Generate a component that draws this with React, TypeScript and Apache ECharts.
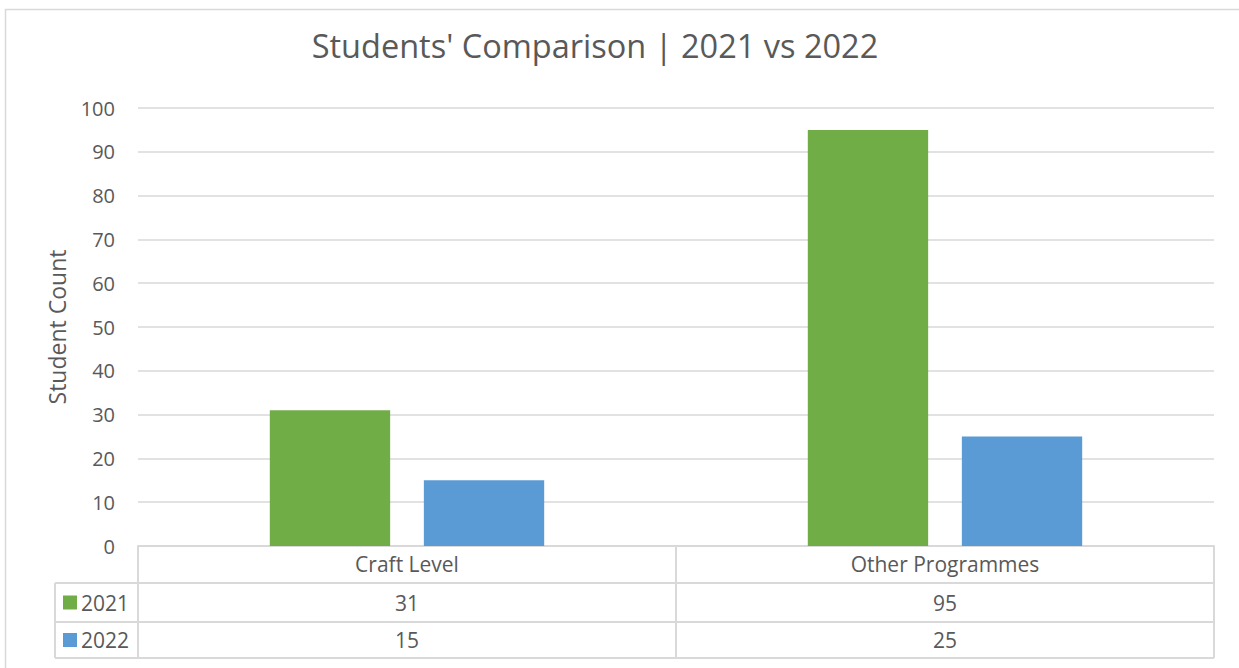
import React, { useEffect, useRef } from "react";
import * as echarts from "echarts";

const categories = ["Craft Level", "Other Programmes"];
const seriesNames = ["2021", "2022"];
const values2021 = [31, 95];
const values2022 = [15, 25];
const yTicks = { min: 0, max: 100, interval: 10 };
const colors = ["#70AD47", "#5B9BD5"];

const W = 1239;
const H = 668;
const FONT = "'Open Sans', sans-serif";
const TEXT = "#595959";
const LINE = "#D9D9D9";

const GRID_LEFT = 138;
const GRID_RIGHT = 1214;
const GRID_TOP = 108;
const GRID_BOTTOM = 546;
const LEG_LEFT = 55;
const ROW_LINES = [583, 622, 658];

export default function App() {
  const ref = useRef<HTMLDivElement>(null);
  useEffect(() => {
    if (!ref.current) return;
    const chart = echarts.init(ref.current, undefined, { renderer: "svg" });
    const allValues = [values2021, values2022];
    const catW = (GRID_RIGHT - GRID_LEFT) / categories.length;
    const graphics: any[] = [];
    graphics.push({
      type: "rect",
      shape: { x: 5.5, y: 9.5, width: 1300, height: 700 },
      style: { fill: "none", stroke: LINE, lineWidth: 1.5 },
      silent: true,
    });
    const lineStyle = { stroke: LINE, lineWidth: 2 };
    ROW_LINES.forEach((y) => {
      graphics.push({ type: "line", shape: { x1: LEG_LEFT, y1: y, x2: GRID_RIGHT, y2: y }, style: lineStyle });
    });
    graphics.push({ type: "line", shape: { x1: LEG_LEFT, y1: ROW_LINES[0], x2: LEG_LEFT, y2: ROW_LINES[2] }, style: lineStyle });
    for (let i = 0; i <= categories.length; i++) {
      const x = GRID_LEFT + i * catW;
      graphics.push({ type: "line", shape: { x1: x, y1: GRID_BOTTOM, x2: x, y2: ROW_LINES[2] }, style: lineStyle });
    }
    seriesNames.forEach((name, r) => {
      const yc = (ROW_LINES[r] + ROW_LINES[r + 1]) / 2;
      graphics.push({
        type: "rect",
        shape: { x: 63, y: yc - 7, width: 14, height: 14 },
        style: { fill: colors[r] },
      });
      graphics.push({
        type: "text",
        x: 81,
        y: yc,
        style: { text: name, font: `21px ${FONT}`, fill: TEXT, verticalAlign: "middle" },
      });
      allValues[r].forEach((v, c) => {
        graphics.push({
          type: "text",
          x: GRID_LEFT + (c + 0.5) * catW,
          y: yc,
          style: { text: String(v), font: `21px ${FONT}`, fill: TEXT, align: "center", verticalAlign: "middle" },
        });
      });
    });

    chart.setOption({
      animation: false,
      title: {
        text: "Students' Comparison | 2021 vs 2022",
        left: 590,
        top: 24,
        textAlign: "center",
        textStyle: { fontFamily: FONT, fontSize: 32.5, fontWeight: "normal", color: TEXT },
      },
      grid: {
        left: GRID_LEFT,
        right: W - GRID_RIGHT,
        top: GRID_TOP,
        bottom: H - GRID_BOTTOM,
        containLabel: false,
      },
      xAxis: {
        type: "category",
        data: categories,
        axisLine: { show: true, lineStyle: { color: LINE, width: 2 } },
        axisTick: { show: false },
        axisLabel: { color: TEXT, fontFamily: FONT, fontSize: 21, margin: 7 },
      },
      yAxis: {
        type: "value",
        min: yTicks.min,
        max: yTicks.max,
        interval: yTicks.interval,
        name: "Student Count",
        nameLocation: "middle",
        nameGap: 70,
        nameTextStyle: { color: TEXT, fontFamily: FONT, fontSize: 23 },
        axisLine: { show: false },
        axisTick: { show: false },
        axisLabel: { color: TEXT, fontFamily: FONT, fontSize: 20, margin: 23 },
        splitLine: { lineStyle: { color: LINE, width: 1.5 } },
      },
      series: [
        {
          name: seriesNames[0],
          type: "bar",
          data: values2021,
          itemStyle: { color: colors[0] },
          barGap: "28%",
          barCategoryGap: "49%",
        },
        {
          name: seriesNames[1],
          type: "bar",
          data: values2022,
          itemStyle: { color: colors[1] },
          barGap: "28%",
          barCategoryGap: "49%",
        },
      ],
      graphic: graphics,
    });
    return () => chart.dispose();
  }, []);
  return (
    <div
      ref={ref}
      style={{ position: "fixed", left: 0, top: 0, width: W, height: H, background: "#fff" }}
    />
  );
}
